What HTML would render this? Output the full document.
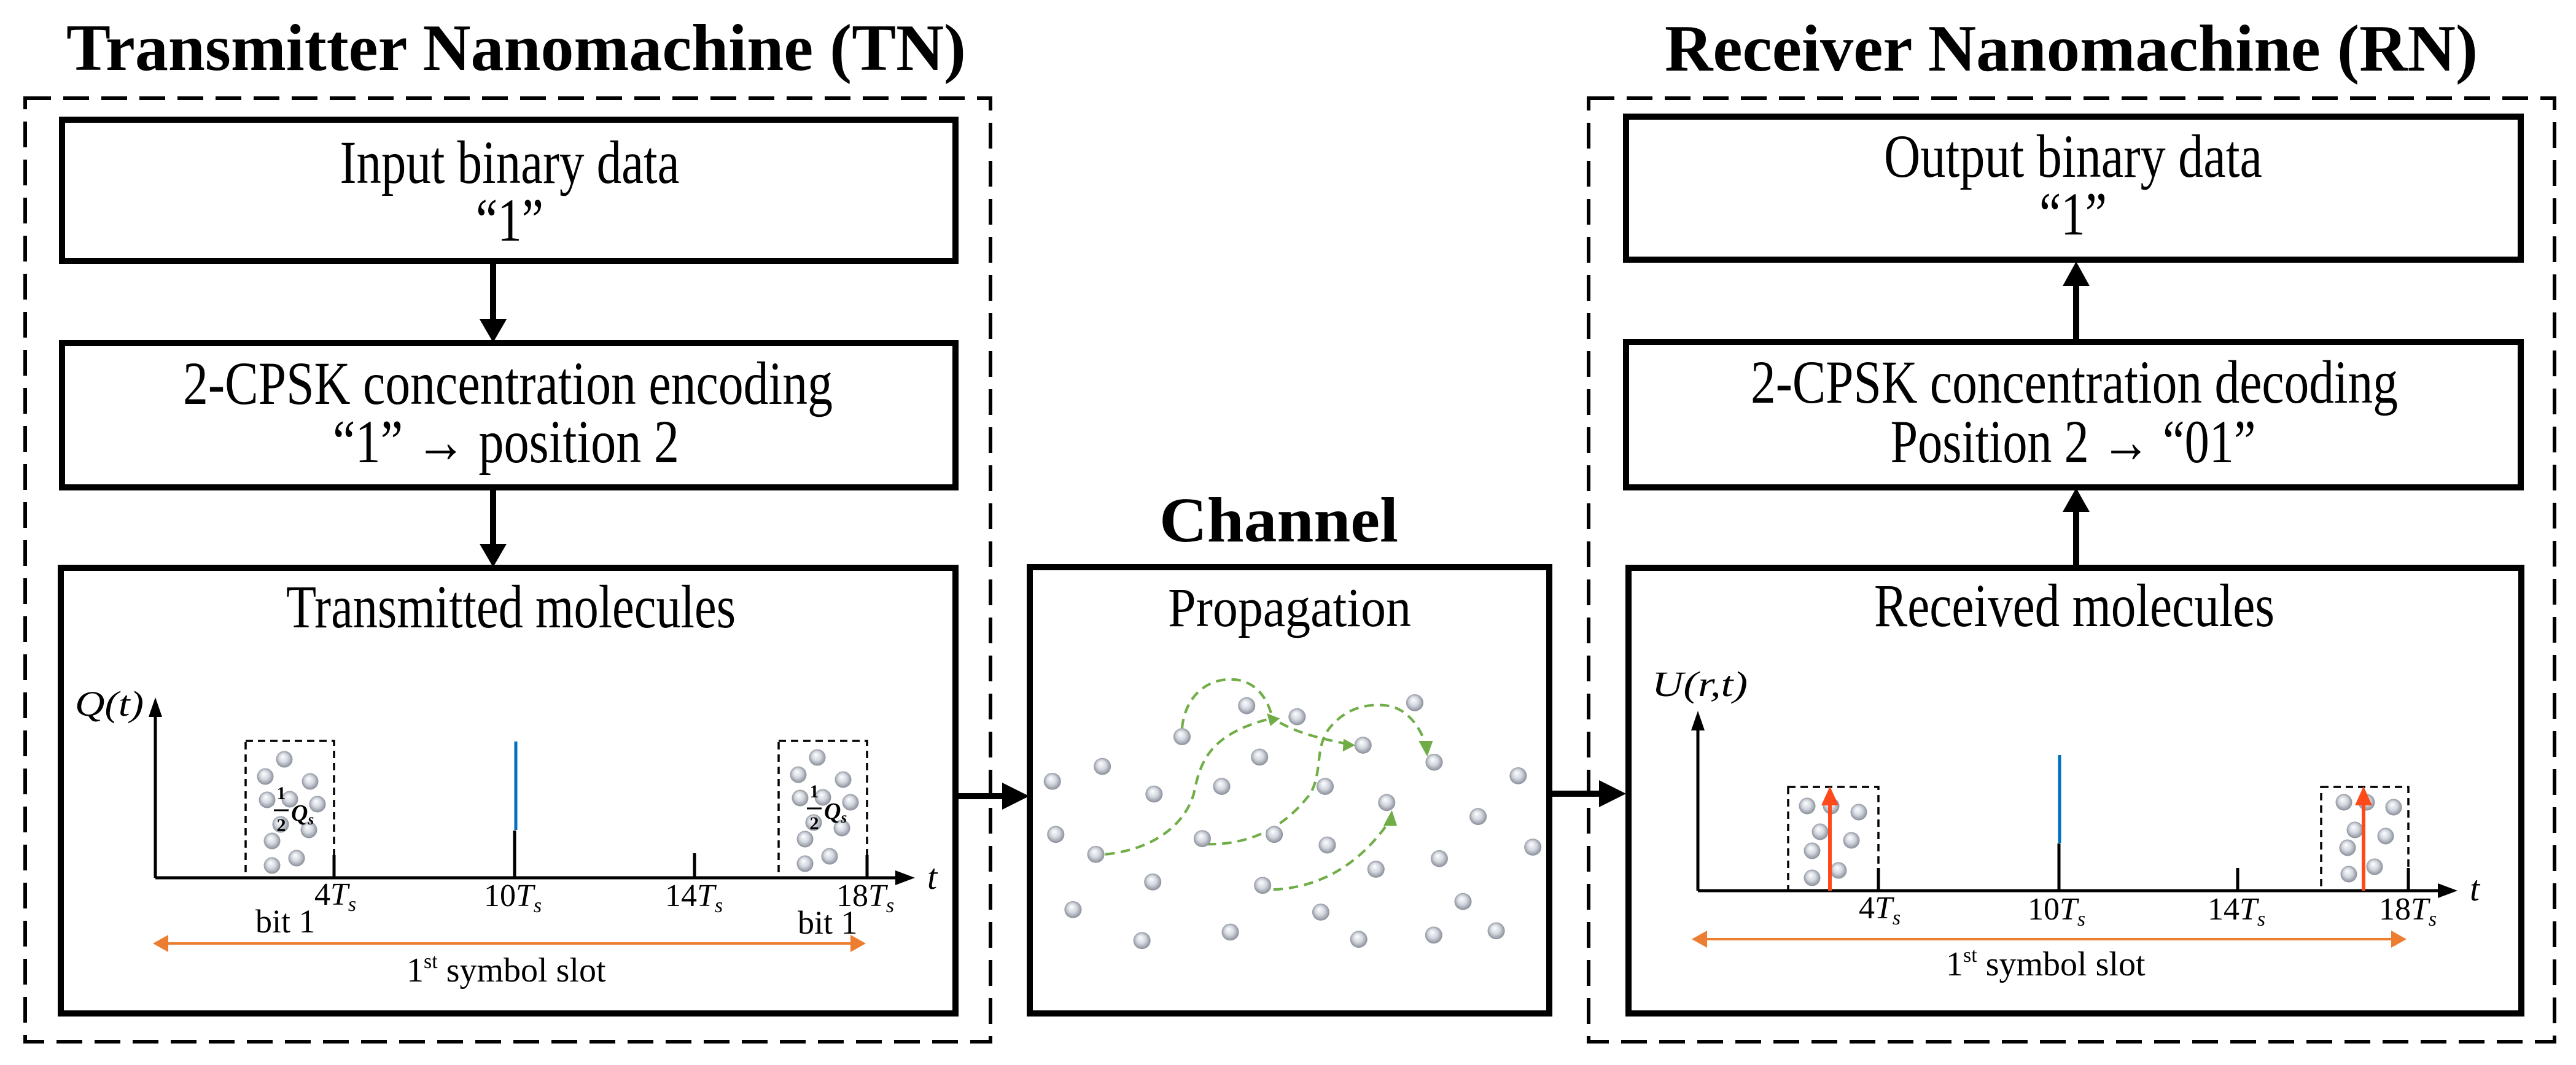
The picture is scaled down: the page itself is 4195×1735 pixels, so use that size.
<!DOCTYPE html>
<html><head><meta charset="utf-8"><style>html,body{margin:0;padding:0;background:#fff}svg{display:block}svg text{font-family:"Liberation Serif","Times New Roman",serif}</style></head>
<body>
<svg xmlns="http://www.w3.org/2000/svg" width="4195" height="1735" viewBox="0 0 4195 1735" font-family="Liberation Serif, serif">
<defs>
<radialGradient id="sp" cx="50%" cy="50%" r="55%" fx="40%" fy="32%">
<stop offset="0" stop-color="#ffffff"/><stop offset="0.5" stop-color="#d3d7df"/><stop offset="1" stop-color="#7d828d"/>
</radialGradient>
<g id="s"><circle r="13.5" fill="url(#sp)"/></g>
<g id="cs"><circle r="20" fill="url(#sp)"/></g>
<g id="tnmol">
<use href="#s" x="463" y="1237"/><use href="#s" x="432" y="1265"/><use href="#s" x="505" y="1273"/>
<use href="#s" x="435" y="1303"/><use href="#s" x="472" y="1302"/><use href="#s" x="517" y="1310"/>
<use href="#s" x="457" y="1343"/><use href="#s" x="503" y="1352"/><use href="#s" x="443" y="1370"/>
<use href="#s" x="483" y="1398"/><use href="#s" x="443" y="1410"/>
</g>
</defs>
<rect width="4195" height="1735" fill="#fff"/>

<text x="108" y="114" font-size="108" font-weight="bold" textLength="1465" lengthAdjust="spacingAndGlyphs">Transmitter Nanomachine (TN)</text>
<text x="2711" y="115" font-size="108" font-weight="bold" textLength="1324" lengthAdjust="spacingAndGlyphs">Receiver Nanomachine (RN)</text>
<text x="1888" y="882" font-size="104" font-weight="bold" textLength="389" lengthAdjust="spacingAndGlyphs">Channel</text>

<rect x="41" y="160" width="1572" height="1537" fill="none" stroke="#000" stroke-width="6" stroke-dasharray="42 20"/>
<rect x="2587" y="160" width="1573" height="1537" fill="none" stroke="#000" stroke-width="6" stroke-dasharray="42 20"/>

<g fill="none" stroke="#000" stroke-width="10">
<rect x="101" y="195" width="1455" height="230"/>
<rect x="101" y="559" width="1455" height="235"/>
<rect x="99" y="925" width="1457" height="726"/>
<rect x="1677" y="924" width="846" height="727"/>
<rect x="2648" y="190" width="1457" height="233"/>
<rect x="2648" y="557" width="1457" height="237"/>
<rect x="2652" y="925" width="1454" height="726"/>
</g>

<g fill="#000">
<rect x="798" y="425" width="10" height="100"/><polygon points="781,520 825,520 803,558"/>
<rect x="798" y="794" width="10" height="96"/><polygon points="781,886 825,886 803,924"/>
<rect x="3376" y="462" width="10" height="95"/><polygon points="3359,466 3403,466 3381,426"/>
<rect x="3376" y="830" width="10" height="95"/><polygon points="3359,834 3403,834 3381,795"/>
<rect x="1556" y="1292" width="80" height="10"/><polygon points="1632,1275 1632,1319 1676,1297"/>
<rect x="2523" y="1288" width="85" height="10"/><polygon points="2604,1271 2604,1315 2648,1293"/>
</g>

<g font-size="100" text-anchor="middle">
<text x="830" y="298" textLength="553" lengthAdjust="spacingAndGlyphs">Input binary data</text>
<text x="830" y="392" textLength="110" lengthAdjust="spacingAndGlyphs">“1”</text>
<text x="827" y="658" textLength="1058" lengthAdjust="spacingAndGlyphs">2-CPSK concentration encoding</text>
<text x="824" y="753" textLength="564" lengthAdjust="spacingAndGlyphs">“1” → position 2</text>
<text x="832" y="1022" textLength="732" lengthAdjust="spacingAndGlyphs">Transmitted molecules</text>
<text x="2100" y="1020" font-size="90" textLength="396" lengthAdjust="spacingAndGlyphs">Propagation</text>
<text x="3376" y="288" textLength="616" lengthAdjust="spacingAndGlyphs">Output binary data</text>
<text x="3376" y="382" textLength="110" lengthAdjust="spacingAndGlyphs">“1”</text>
<text x="3378" y="656" textLength="1054" lengthAdjust="spacingAndGlyphs">2-CPSK concentration decoding</text>
<text x="3376" y="753" textLength="595" lengthAdjust="spacingAndGlyphs">Position 2 → “01”</text>
<text x="3378" y="1020" textLength="652" lengthAdjust="spacingAndGlyphs">Received molecules</text>
</g>

<g stroke="#000" stroke-width="5" fill="none">
<line x1="253" y1="1430" x2="253" y2="1165"/>
<line x1="253" y1="1430" x2="1460" y2="1430"/>
<line x1="544" y1="1393" x2="544" y2="1430"/>
<line x1="838" y1="1353" x2="838" y2="1430"/>
<line x1="1131" y1="1390" x2="1131" y2="1430"/>
<line x1="1412" y1="1393" x2="1412" y2="1430"/>
</g>
<polygon points="242,1168 264,1168 253,1136" fill="#000"/>
<polygon points="1458,1418 1458,1442 1490,1430" fill="#000"/>
<line x1="840" y1="1208" x2="840" y2="1352" stroke="#0070c0" stroke-width="5"/>
<g fill="none" stroke="#000" stroke-width="3.5" stroke-dasharray="12 8">
<rect x="400" y="1207" width="144" height="223"/>
<rect x="1268" y="1207" width="144" height="223"/>
</g>
<use href="#tnmol"/>
<use href="#tnmol" x="868" y="-3"/>
<g font-weight="bold">
<text x="458" y="1302" font-size="30" text-anchor="middle">1</text>
<line x1="446" y1="1320" x2="470" y2="1320" stroke="#000" stroke-width="3"/>
<text x="458" y="1354" font-size="30" text-anchor="middle">2</text>
<text x="474" y="1337" font-size="38" font-style="italic">Q<tspan font-size="25" dy="6">s</tspan></text>
<text x="1326" y="1299" font-size="30" text-anchor="middle">1</text>
<line x1="1314" y1="1317" x2="1338" y2="1317" stroke="#000" stroke-width="3"/>
<text x="1326" y="1351" font-size="30" text-anchor="middle">2</text>
<text x="1342" y="1334" font-size="38" font-style="italic">Q<tspan font-size="25" dy="6">s</tspan></text>
</g>
<g font-size="52">
<text x="122" y="1166" font-style="italic" font-size="58" textLength="112" lengthAdjust="spacingAndGlyphs">Q(t)</text>
<text x="1510" y="1448" font-style="italic" font-size="58">t</text>
<text x="512" y="1474">4<tspan font-style="italic">T</tspan><tspan font-style="italic" font-size="34" dy="10">s</tspan></text>
<text x="788" y="1476">10<tspan font-style="italic">T</tspan><tspan font-style="italic" font-size="34" dy="10">s</tspan></text>
<text x="1083" y="1476">14<tspan font-style="italic">T</tspan><tspan font-style="italic" font-size="34" dy="10">s</tspan></text>
<text x="1362" y="1476">18<tspan font-style="italic">T</tspan><tspan font-style="italic" font-size="34" dy="10">s</tspan></text>
<text x="416" y="1519" font-size="54">bit 1</text>
<text x="1299" y="1521" font-size="54">bit 1</text>
<text x="662" y="1599" font-size="56">1<tspan font-size="34" dy="-22">st</tspan><tspan dy="22"> symbol slot</tspan></text>
</g>
<line x1="268" y1="1537" x2="1392" y2="1537" stroke="#ed7d31" stroke-width="4"/>
<polygon points="249,1537 274,1523 274,1551" fill="#ed7d31"/>
<polygon points="1410,1537 1385,1523 1385,1551" fill="#ed7d31"/>

<g stroke="#000" stroke-width="5" fill="none">
<line x1="2765" y1="1451" x2="2765" y2="1185"/>
<line x1="2765" y1="1451" x2="3972" y2="1451"/>
<line x1="3059" y1="1414" x2="3059" y2="1451"/>
<line x1="3353" y1="1374" x2="3353" y2="1451"/>
<line x1="3644" y1="1414" x2="3644" y2="1451"/>
<line x1="3922" y1="1414" x2="3922" y2="1451"/>
</g>
<polygon points="2754,1190 2776,1190 2765,1158" fill="#000"/>
<polygon points="3970,1439 3970,1463 4002,1451" fill="#000"/>
<line x1="3354" y1="1230" x2="3354" y2="1373" stroke="#0070c0" stroke-width="5"/>
<g fill="none" stroke="#000" stroke-width="3.5" stroke-dasharray="12 8">
<rect x="2912" y="1282" width="147" height="169"/>
<rect x="3780" y="1282" width="142" height="169"/>
</g>
<g>
<use href="#s" x="2943" y="1313"/><use href="#s" x="2982" y="1313"/><use href="#s" x="3027" y="1323"/>
<use href="#s" x="2964" y="1355"/><use href="#s" x="3015" y="1369"/><use href="#s" x="2951" y="1386"/>
<use href="#s" x="2994" y="1418"/><use href="#s" x="2951" y="1430"/>
<use href="#s" x="3817" y="1307"/><use href="#s" x="3854" y="1307"/><use href="#s" x="3898" y="1315"/>
<use href="#s" x="3835" y="1352"/><use href="#s" x="3885" y="1362"/><use href="#s" x="3823" y="1381"/>
<use href="#s" x="3867" y="1412"/><use href="#s" x="3825" y="1424"/>
</g>
<g stroke="#fe4a1b" stroke-width="6">
<line x1="2980" y1="1451" x2="2980" y2="1305"/>
<line x1="3849" y1="1451" x2="3849" y2="1305"/>
</g>
<polygon points="2966,1312 2994,1312 2980,1281" fill="#fe4a1b"/>
<polygon points="3835,1312 3863,1312 3849,1281" fill="#fe4a1b"/>
<g font-size="52">
<text x="2690" y="1134" font-style="italic" font-size="58" textLength="156" lengthAdjust="spacingAndGlyphs">U(r,t)</text>
<text x="4022" y="1467" font-style="italic" font-size="58">t</text>
<text x="3027" y="1496">4<tspan font-style="italic">T</tspan><tspan font-style="italic" font-size="34" dy="10">s</tspan></text>
<text x="3302" y="1498">10<tspan font-style="italic">T</tspan><tspan font-style="italic" font-size="34" dy="10">s</tspan></text>
<text x="3595" y="1498">14<tspan font-style="italic">T</tspan><tspan font-style="italic" font-size="34" dy="10">s</tspan></text>
<text x="3874" y="1498">18<tspan font-style="italic">T</tspan><tspan font-style="italic" font-size="34" dy="10">s</tspan></text>
<text x="3169" y="1589" font-size="56">1<tspan font-size="34" dy="-22">st</tspan><tspan dy="22"> symbol slot</tspan></text>
</g>
<line x1="2774" y1="1530" x2="3900" y2="1530" stroke="#ed7d31" stroke-width="4"/>
<polygon points="2755,1530 2780,1516 2780,1544" fill="#ed7d31"/>
<polygon points="3919,1530 3894,1516 3894,1544" fill="#ed7d31"/>

<g transform="translate(1600,650) scale(0.7018,0.6920)">
<g fill="none" stroke="#70ad47" stroke-width="6" stroke-dasharray="22 14">
<path d="M463,775 C470,700 520,660 575,660 C630,660 660,700 672,748"/>
<path d="M285,1072 C400,1060 470,1000 490,930 C505,860 520,790 670,752"/>
<path d="M690,762 C740,790 790,800 850,813"/>
<path d="M520,1048 C620,1050 700,1010 760,930 C790,880 770,820 805,775 C840,730 890,715 940,722 C990,730 1020,780 1030,820"/>
<path d="M675,1155 C780,1150 870,1100 940,1000"/>
</g>
<g fill="#70ad47">
<polygon points="690,752 660,740 668,770"/>
<polygon points="865,815 838,800 836,830"/>
<polygon points="1032,842 1012,805 1045,805"/>
<polygon points="950,968 930,1005 962,1005"/>
</g>
<g>
<use href="#cs" x="463" y="795"/><use href="#cs" x="613" y="722"/><use href="#cs" x="730" y="748"/>
<use href="#cs" x="883" y="815"/><use href="#cs" x="1003" y="715"/><use href="#cs" x="1048" y="855"/>
<use href="#cs" x="643" y="843"/><use href="#cs" x="278" y="865"/><use href="#cs" x="162" y="900"/>
<use href="#cs" x="398" y="930"/><use href="#cs" x="555" y="912"/><use href="#cs" x="795" y="912"/>
<use href="#cs" x="1243" y="887"/><use href="#cs" x="938" y="950"/><use href="#cs" x="1150" y="983"/>
<use href="#cs" x="170" y="1025"/><use href="#cs" x="263" y="1072"/><use href="#cs" x="510" y="1035"/>
<use href="#cs" x="677" y="1025"/><use href="#cs" x="800" y="1050"/><use href="#cs" x="1060" y="1082"/>
<use href="#cs" x="1277" y="1055"/><use href="#cs" x="913" y="1107"/><use href="#cs" x="395" y="1137"/>
<use href="#cs" x="650" y="1145"/><use href="#cs" x="210" y="1202"/><use href="#cs" x="785" y="1208"/>
<use href="#cs" x="1115" y="1183"/><use href="#cs" x="370" y="1275"/><use href="#cs" x="575" y="1255"/>
<use href="#cs" x="873" y="1272"/><use href="#cs" x="1047" y="1262"/><use href="#cs" x="1192" y="1252"/>
</g>
</g>
</svg>
</body></html>
